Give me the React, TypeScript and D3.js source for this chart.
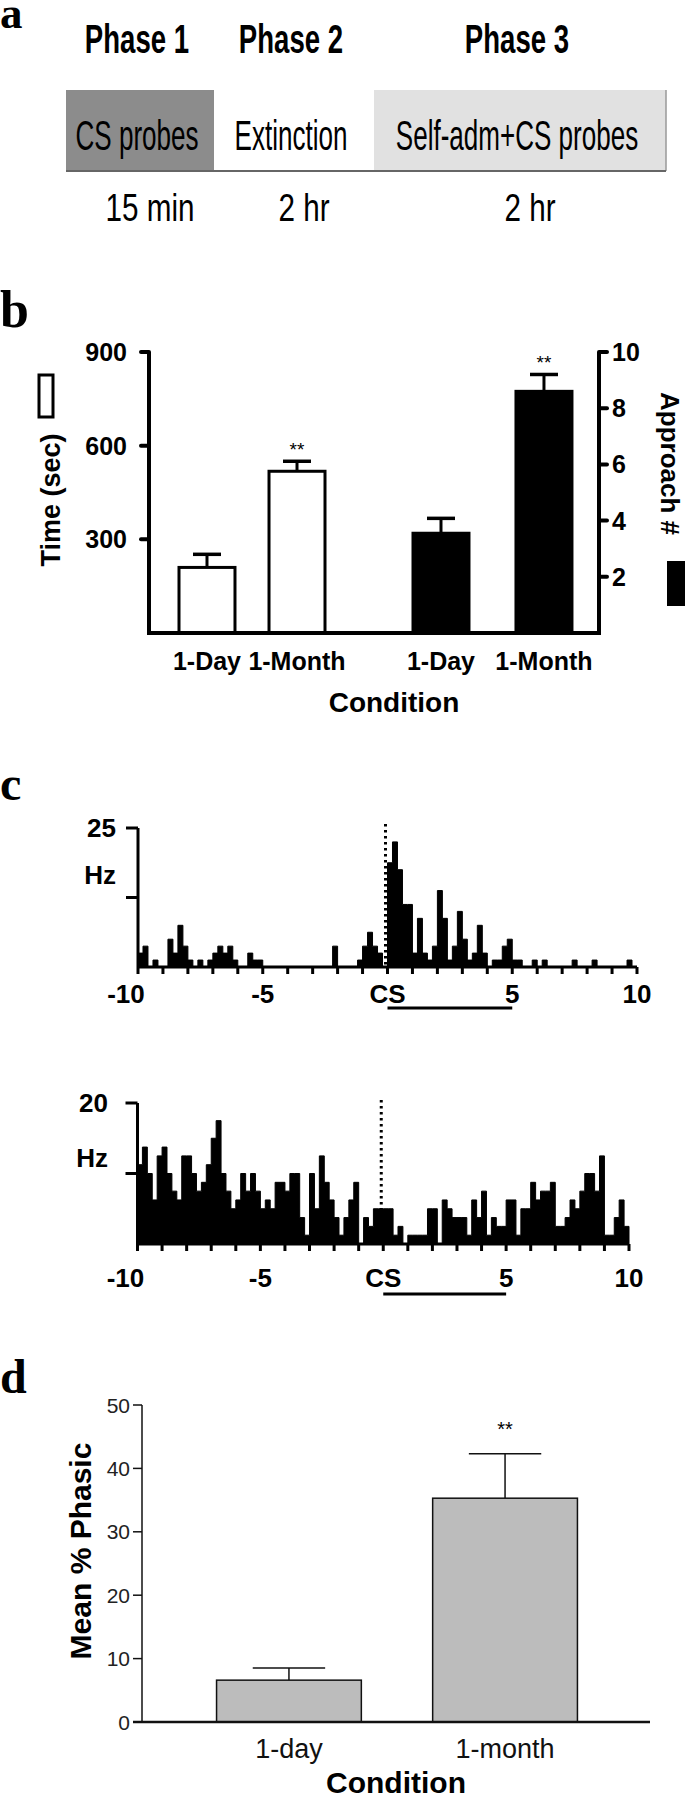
import React from 'react';
import * as d3 from 'd3';

// ---- panel a: protocol ----
const phaseNames = ['Phase 1', 'Phase 2', 'Phase 3'];
const phaseTasks = ['CS probes', 'Extinction', 'Self-adm+CS probes'];
const phaseDurations = ['15 min', '2 hr', '2 hr'];

// ---- panel b: time (sec) and approach # ----
const bConditions = ['1-Day', '1-Month'];
const timeMean = [210, 518];
const timeSem = [42, 32];
const approachMean = [3.55, 8.6];
const approachSem = [0.53, 0.6];
const timeTicks = [300, 600, 900];
const approachTicks = [2, 4, 6, 8, 10];

// ---- panel c: PSTH, 0.2 s bins from -10 to 10 s (Hz) ----
const psthBin = 0.2;
const psthOneMonth = [
  2.5, 3.75, 0, 1.25, 0, 0, 5, 2.5, 7.5, 3.75,
  1.25, 0, 1.25, 0, 1.25, 2.5, 3.75, 2.5, 3.75, 1.25,
  0, 0, 2.5, 1.25, 1.25, 0, 0, 0, 0, 0,
  0, 0, 0, 0, 0, 0, 0, 0, 0, 3.75,
  0, 0, 0, 0, 1.25, 3.75, 6.25, 3.75, 2.5, 0,
  18.75, 22.5, 17.5, 11.25, 11.25, 2.5, 8.75, 2.5, 1.25, 3.75,
  13.75, 8.75, 1.25, 3.75, 10, 5, 1.25, 2.5, 7.5, 2.5,
  0, 1.25, 1.25, 3.75, 5, 1.25, 1.25, 0, 0, 1.25,
  0, 1.25, 0, 0, 0, 0, 0, 1.25, 0, 0,
  0, 1.25, 0, 0, 0, 0, 0, 0, 1.25, 0,
];
const psthOneDay = [
  11.25, 13.75, 10, 6.25, 12.5, 13.75, 10, 7.5, 6.25, 12.5,
  12.5, 10, 7.5, 8.75, 11.25, 15, 17.5, 10, 7.5, 5,
  6.25, 10, 7.5, 10, 7.5, 5, 6.25, 5, 8.75, 8.75,
  7.5, 10, 10, 3.75, 1.25, 10, 5, 12.5, 8.75, 6.25,
  3.75, 1.25, 3.75, 6.25, 8.75, 0, 3.75, 2.5, 5, 5,
  5, 5, 1.25, 2.5, 0, 1.25, 1.25, 1.25, 1.25, 5,
  5, 0, 6.25, 5, 3.75, 3.75, 3.75, 1.25, 6.25, 3.75,
  7.5, 1.25, 3.75, 2.5, 2.5, 6.25, 6.25, 1.25, 5, 5,
  8.75, 6.25, 7.5, 7.5, 8.75, 2.5, 2.5, 3.75, 6.25, 5,
  7.5, 10, 10, 7.5, 12.5, 1.25, 1.25, 3.75, 6.25, 2.5,
];
const psthXTicks = [-10, -5, 0, 5, 10];
const psthXLabels = ['-10', '-5', 'CS', '5', '10'];

// ---- panel d: mean % phasic ----
const dConditions = ['1-day', '1-month'];
const phasicMean = [6.6, 35.3];
const phasicSem = [1.9, 7.0];
const phasicTicks = [0, 10, 20, 30, 40, 50];

const SANS = '"Liberation Sans", Arial, Helvetica, sans-serif';
const SERIF = '"Liberation Serif", "Times New Roman", serif';

// condensed text: squeeze horizontally instead of using a narrow font
const Squeezed = ({ x, y, sx, children, ...rest }: any) => (
  <text transform={`translate(${x},${y}) scale(${sx},1)`} textAnchor="middle" {...rest}>{children}</text>
);

const PanelA = () => {
  const edges = [66, 214, 374, 666];
  const fills = ['#8c8c8c', '#ffffff', '#e1e1e1'];
  return (
    <g>
      <text x={0} y={28} fontFamily={SERIF} fontWeight="bold" fontSize={45}>a</text>
      {phaseNames.map((p, i) => {
        const cx = (edges[i] + edges[i + 1]) / 2;
        return (
          <g key={p}>
            <Squeezed x={cx - 3} y={53} sx={0.69} fontWeight="bold" fontSize={40}>{p}</Squeezed>
            <rect x={edges[i]} y={90} width={edges[i + 1] - edges[i]} height={81} fill={fills[i]} />
            <Squeezed x={cx - 3} y={150} sx={0.62} fontSize={42}>{phaseTasks[i]}</Squeezed>
            <Squeezed x={cx + 10} y={221} sx={0.78} fontSize={38}>{phaseDurations[i]}</Squeezed>
          </g>
        );
      })}
      <line x1={edges[3]} x2={edges[3]} y1={90} y2={171} stroke="#999" strokeWidth={1.5} />
      <line x1={edges[0]} x2={edges[3]} y1={171} y2={171} stroke="#666" strokeWidth={2} />
    </g>
  );
};

const PanelB = () => {
  const left = 149, right = 599, y0 = 633, yTop = 352;
  const yTime = d3.scaleLinear().domain([0, 900]).range([y0, yTop]);
  const yApp = d3.scaleLinear().domain([0, 10]).range([y0, yTop]);
  const xTime = d3.scaleBand().domain(bConditions).range([179, 325]).paddingInner(0.378);
  const xApp = d3.scaleBand().domain(bConditions).range([413, 572]).paddingInner(0.456);
  const bw = xTime.bandwidth();
  const groups = [
    { x: xTime, y: yTime, mean: timeMean, sem: timeSem, fill: '#fff', key: 't' },
    { x: xApp, y: yApp, mean: approachMean, sem: approachSem, fill: '#000', key: 'a' },
  ];
  return (
    <g fontFamily={SANS} fontWeight="bold">
      <text x={0} y={327} fontFamily={SERIF} fontSize={52}>b</text>
      {groups.map(g => bConditions.map((c, i) => {
        const x = g.x(c)!;
        const cx = x + bw / 2;
        const yt = g.y(g.mean[i]);
        const ye = g.y(g.mean[i] + g.sem[i]);
        return (
          <g key={g.key + c}>
            <line x1={cx} x2={cx} y1={yt} y2={ye} stroke="#000" strokeWidth={3} />
            <line x1={cx - 14} x2={cx + 14} y1={ye} y2={ye} stroke="#000" strokeWidth={3.5} />
            <rect x={x} y={yt} width={bw} height={y0 - yt} fill={g.fill} stroke="#000" strokeWidth={3} />
            {i === 1 && (
              <text x={cx} y={ye - 5} textAnchor="middle" fontWeight="normal" fontSize={19}>**</text>
            )}
            <text x={cx} y={670} textAnchor="middle" fontSize={25}>{c}</text>
          </g>
        );
      }))}
      <path d={`M${left},${yTop}V${y0}H${right}V${yTop}`} fill="none" stroke="#000" strokeWidth={4} />
      {timeTicks.map(t => (
        <g key={'lt' + t}>
          <line x1={left - 8} x2={left} y1={yTime(t)} y2={yTime(t)} stroke="#000" strokeWidth={4}
            strokeLinecap="round" />
          <text x={127} y={yTime(t)} dy="0.36em" textAnchor="end" fontSize={25}>{t}</text>
        </g>
      ))}
      {approachTicks.map(t => (
        <g key={'rt' + t}>
          <line x1={right} x2={right + 8} y1={yApp(t)} y2={yApp(t)} stroke="#000" strokeWidth={4}
            strokeLinecap="round" />
          <text x={612} y={yApp(t)} dy="0.36em" textAnchor="start" fontSize={25}>{t}</text>
        </g>
      ))}
      <text x={394} y={712} textAnchor="middle" fontSize={28}>Condition</text>
      <text transform="translate(60,500) rotate(-90)" textAnchor="middle" fontSize={27}>Time (sec)</text>
      <rect x={39} y={375} width={14} height={42} fill="#fff" stroke="#000" strokeWidth={3} />
      <text transform="translate(661,392) rotate(90)" textAnchor="start" fontSize={26}>Approach #</text>
      <rect x={667} y={561} width={20} height={45} fill="#000" />
    </g>
  );
};

type PsthProps = {
  rates: number[];
  x0: number; x1: number; y0: number; yTop: number;
  yMax: number; topLabel: string; labelRight: number; hzY: number;
  labelY: number; csY: number; dotTop: number;
};

const Psth = ({ rates, x0, x1, y0, yTop, yMax, topLabel, labelRight, hzY, labelY, csY, dotTop }: PsthProps) => {
  const x = d3.scaleLinear().domain([-10, 10]).range([x0, x1]);
  const y = d3.scaleLinear().domain([0, yMax]).range([y0, yTop]);
  const minor = d3.range(-10, 11, 1);
  const pts = rates.map((r, i) => ({ t: -10 + i * psthBin, r }));
  pts.push({ t: 10, r: 0 });
  const area = d3.area<{ t: number; r: number }>()
    .x(d => x(d.t))
    .y0(y0)
    .y1(d => y(d.r))
    .curve(d3.curveStepAfter);
  return (
    <g fontFamily={SANS} fontWeight="bold">
      <line x1={x(0) - 2} x2={x(0) - 2} y1={dotTop} y2={y0} stroke="#000" strokeWidth={3}
        strokeDasharray="2.5,3.5" />
      <path d={area(pts) ?? ''} fill="#000" stroke="#000" strokeWidth={1} />
      <line x1={x(-10)} x2={x(10)} y1={y0} y2={y0} stroke="#000" strokeWidth={3} />
      <line x1={x(-10)} x2={x(-10)} y1={yTop} y2={y0} stroke="#000" strokeWidth={3} />
      {[yMax, yMax / 2].map(v => (
        <line key={v} x1={x(-10) - 12} x2={x(-10)} y1={y(v)} y2={y(v)} stroke="#000" strokeWidth={3} />
      ))}
      {minor.map(t => (
        <line key={t} x1={x(t)} x2={x(t)} y1={y0} y2={y0 + 7} stroke="#000" strokeWidth={3} />
      ))}
      <text x={labelRight} y={y(yMax)} dy="0.36em" textAnchor="end" fontSize={26}>{topLabel}</text>
      <text x={labelRight} y={hzY} dy="0.36em" textAnchor="end" fontSize={26}>Hz</text>
      {psthXTicks.map((t, i) => (
        <text key={t} x={x(t)} dx={i === 0 ? -12 : 0} y={labelY} textAnchor="middle" fontSize={26}>
          {psthXLabels[i]}
        </text>
      ))}
      <line x1={x(0)} x2={x(5)} y1={csY} y2={csY} stroke="#000" strokeWidth={3} />
    </g>
  );
};

const PanelD = () => {
  const axisX = 142, y0 = 1722;
  const y = d3.scaleLinear().domain([0, 50]).range([y0, 1405]);
  const x = d3.scaleBand().domain(dConditions).range([142, 652]).paddingInner(0.33).paddingOuter(0.345);
  const bw = x.bandwidth();
  return (
    <g fontFamily={SANS}>
      <text x={0} y={1393} fontFamily={SERIF} fontWeight="bold" fontSize={48}>d</text>
      {dConditions.map((c, i) => {
        const bx = x(c)!;
        const cx = bx + bw / 2;
        const yt = y(phasicMean[i]);
        const ye = y(phasicMean[i] + phasicSem[i]);
        return (
          <g key={c}>
            <line x1={cx} x2={cx} y1={yt} y2={ye} stroke="#111" strokeWidth={1.5} />
            <line x1={cx - bw / 4} x2={cx + bw / 4} y1={ye} y2={ye} stroke="#111" strokeWidth={1.5} />
            <rect x={bx} y={yt} width={bw} height={y0 - yt} fill="#bcbcbc" stroke="#111" strokeWidth={1.5} />
            <text x={cx} y={1758} textAnchor="middle" fontSize={27} fill="#111">{c}</text>
            {i === 1 && <text x={cx} y={1436} textAnchor="middle" fontSize={20}>**</text>}
          </g>
        );
      })}
      <line x1={axisX} x2={axisX} y1={y(50)} y2={y0} stroke="#111" strokeWidth={1.5} />
      <line x1={133} x2={650} y1={y0} y2={y0} stroke="#111" strokeWidth={2.5} />
      {phasicTicks.map(t => (
        <g key={t}>
          <line x1={axisX - 9} x2={axisX} y1={y(t)} y2={y(t)} stroke="#111" strokeWidth={1.5} />
          <text x={130} y={y(t)} dy="0.36em" textAnchor="end" fontSize={21} fill="#222">{t}</text>
        </g>
      ))}
      <text transform="translate(91,1551) rotate(-90)" textAnchor="middle" fontWeight="bold" fontSize={30}>
        Mean % Phasic
      </text>
      <text x={396} y={1793} textAnchor="middle" fontWeight="bold" fontSize={30}>Condition</text>
    </g>
  );
};

export default function App() {
  return (
    <svg width={685} height={1800} viewBox="0 0 685 1800"
      style={{ position: 'absolute', left: 0, top: 0, background: '#fff' }}
      fontFamily={SANS}>
      <rect width={685} height={1800} fill="#fff" />
      <PanelA />
      <PanelB />
      <text x={0} y={800} fontFamily={SERIF} fontWeight="bold" fontSize={48}>c</text>
      <Psth rates={psthOneMonth} x0={138} x1={637} y0={967} yTop={828} yMax={25} topLabel="25"
        labelRight={116} hzY={875} labelY={1003} csY={1008} dotTop={824} />
      <Psth rates={psthOneDay} x0={137.5} x1={629} y0={1244} yTop={1103} yMax={20} topLabel="20"
        labelRight={108} hzY={1158} labelY={1287} csY={1294} dotTop={1100} />
      <PanelD />
    </svg>
  );
}
